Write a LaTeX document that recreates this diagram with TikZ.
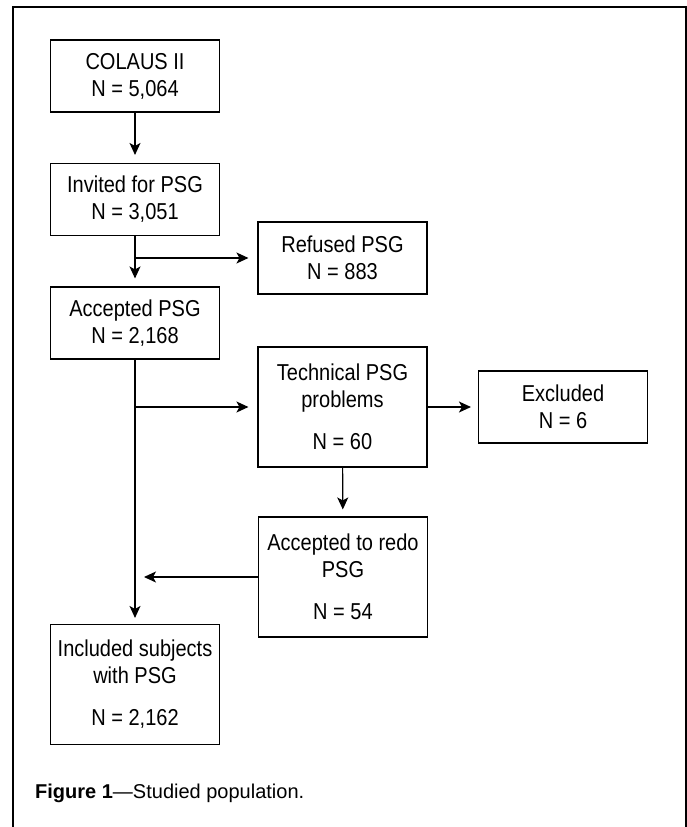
\documentclass[tikz,border=0pt]{standalone}
\usepackage{fontspec}
\setmainfont{Liberation Sans}
\newfontfamily\boxfont{Liberation Sans}[FakeStretch=0.87]
\usepackage{tikz}
\usetikzlibrary{arrows.meta}

\begin{document}
\begin{tikzpicture}[x=1pt, y=-1pt,
		stagebox/.style={draw=black, line width=1.1pt, minimum width=169pt, minimum height=72pt, inner sep=0pt, align=center, font=\boxfont\fontsize{23}{27}\selectfont},
		tallbox/.style={stagebox, minimum height=120pt},
		flow/.style={draw=black, line width=1.1pt, -{Stealth[length=12pt, width=11pt, inset=3pt]}, shorten >=8pt}]
		\useasboundingbox (0,0) rectangle (687,827);
		\draw[draw=black, line width=1.3pt] (13,830) -- (13,7) -- (686,7) -- (686,830);
		\node[stagebox] (colaus) at (135,76) {COLAUS II\\N = 5,064};
		\node[stagebox] (invited) at (135,199.5) {Invited for PSG\\N = 3,051};
		\node[stagebox] (refused) at (342.5,258) {Refused PSG\\N = 883};
		\node[stagebox] (accepted) at (135,323) {Accepted PSG\\N = 2,168};
		\node[tallbox] (technical) at (342.5,407) {Technical PSG\\problems\\[15pt]N = 60};
		\node[stagebox] (excluded) at (563,407) {Excluded\\N = 6};
		\node[tallbox] (redo) at (343,577) {Accepted to redo\\PSG\\[15pt]N = 54};
		\node[tallbox] (included) at (135,684.5) {Included subjects\\with PSG\\[15pt]N = 2,162};
		\coordinate (split1) at (invited.south |- refused.west);
		\coordinate (split2) at (accepted.south |- technical.west);
		\coordinate (merge) at (accepted.south |- redo.west);
		\draw[flow] (colaus) -- (invited);
		\draw[flow] (invited) -- (accepted);
		\draw[flow, shorten >=9pt] (split1) -- (refused.west);
		\draw[flow, shorten >=6pt] (accepted) -- (included);
		\draw[flow, shorten >=9pt] (split2) -- (technical.west);
		\draw[flow, shorten >=7pt] (technical) -- (excluded);
		\draw[flow, shorten >=7pt] (technical) -- (redo);
		\draw[flow, shorten >=9pt] (redo.west) -- (merge);
		\node[anchor=base west, inner sep=0pt, font=\fontsize{20}{24}\selectfont] (caption) at (35,798) {\textbf{Figure 1}---Studied population.};
	\end{tikzpicture}
\end{document}
